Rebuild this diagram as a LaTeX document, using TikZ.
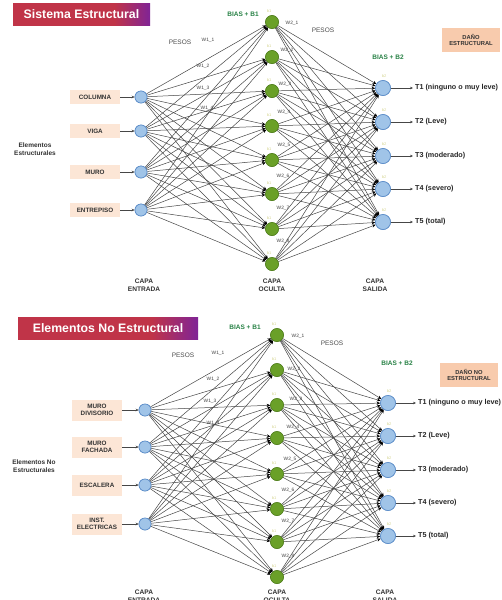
\documentclass[tikz,border=0pt]{standalone}
\usepackage{fontspec}
\setmainfont{Liberation Sans}
\usetikzlibrary{arrows.meta}
\definecolor{titleR}{RGB}{192,52,72}
\definecolor{titleP}{RGB}{128,36,150}
\definecolor{peachL}{RGB}{252,230,214}
\definecolor{peachD}{RGB}{248,203,173}
\definecolor{blueL}{RGB}{160,196,232}
\definecolor{blueD}{RGB}{91,140,200}
\definecolor{greenN}{RGB}{106,160,40}
\definecolor{greenD}{RGB}{80,125,30}
\definecolor{biasG}{RGB}{40,130,70}
\definecolor{faintY}{RGB}{215,215,150}
\definecolor{lineC}{RGB}{70,70,70}
\pgfdeclarehorizontalshading{titlesh}{100bp}{color(0bp)=(titleR); color(25bp)=(titleR); color(62bp)=(titleR); color(75bp)=(titleP); color(100bp)=(titleP)}
\begin{document}
\begin{tikzpicture}[x=1pt,y=-1pt,
  titlebox/.style={shading=titlesh, minimum height=22pt, inner sep=0pt, text=white, font=\fontsize{12.3}{14}\selectfont\bfseries},
  inbox/.style={fill=peachL, minimum width=50pt, minimum height=14pt, inner sep=1pt, font=\fontsize{6.3}{7.3}\selectfont\bfseries, align=center, text=black!80},
  innode/.style={circle, fill=blueL, draw=blueD, line width=0.6pt, minimum size=12pt, inner sep=0pt},
  hidnode/.style={circle, fill=greenN, draw=greenD, line width=0.5pt, minimum size=13pt, inner sep=0pt},
  outnode/.style={circle, fill=blueL, draw=blueD, line width=0.6pt, minimum size=15pt, inner sep=0pt},
  conn/.style={draw=lineC, line width=0.5pt, -{Stealth[length=3.6pt,width=3.2pt,black]}},
  sarrow/.style={draw=lineC, line width=0.5pt, -{Stealth[length=3pt,width=2.6pt]}},
  wlbl/.style={font=\fontsize{4.8}{5}\selectfont, text=black!75, inner sep=0.5pt},
  pesos/.style={font=\fontsize{6.5}{7}\selectfont, text=black!70},
  layer/.style={font=\fontsize{6.6}{7.6}\selectfont\bfseries, align=center, text=black!80},
  outlbl/.style={anchor=west, inner sep=2pt, font=\fontsize{7.2}{8}\selectfont\bfseries, text=black!85},
  bias/.style={font=\fontsize{6.5}{7}\selectfont\bfseries, text=biasG},
  blbl/.style={font=\fontsize{4}{5}\selectfont, text=faintY},
  dmg/.style={fill=peachD, minimum width=58pt, minimum height=24pt, inner sep=1pt, align=center, font=\fontsize{5.8}{6.8}\selectfont\bfseries, text=black!80},
  grp/.style={font=\fontsize{6.5}{7.5}\selectfont\bfseries, align=center, text=black!80}
]
\useasboundingbox (0,0) rectangle (501,600);
\fill[white] (0,0) rectangle (501,600);

% ================= TOP PANEL =================
\node[titlebox, minimum width=137pt] (t1) at (81.5,14.5) {Sistema Estructural};

\foreach \i/\y/\t in {1/97/COLUMNA, 2/131/VIGA, 3/172/MURO, 4/210/ENTREPISO}{
  \node[inbox] (ab\i) at (95,\y) {\t};
  \node[innode] (ai\i) at (141,\y) {};
}
\foreach \j/\y in {1/22, 2/57, 3/91, 4/126, 5/160, 6/194, 7/229, 8/264}{
  \node[hidnode] (ah\j) at (272,\y) {};
}
\foreach \k/\y in {1/88, 2/122, 3/156, 4/189, 5/222}{
  \node[outnode] (ao\k) at (383,\y) {};
}
\foreach \i in {1,...,4}{\foreach \j in {1,...,8}{\draw[conn] (ai\i) -- (ah\j);}}
\foreach \j in {1,...,8}{\foreach \k in {1,...,5}{\draw[conn] (ah\j) -- (ao\k);}}
\foreach \i in {1,...,4}{\draw[sarrow] (ab\i) -- (ai\i);}
\foreach \i/\y in {1/97, 2/131, 3/172, 4/210}{\node[innode] at (141,\y) {};}
\foreach \j/\y in {1/22, 2/57, 3/91, 4/126, 5/160, 6/194, 7/229, 8/264}{
  \node[hidnode] at (272,\y) {};
  \node[blbl] at (269,\y-11) {b1};
}
\foreach \k/\y/\t in {1/88/{T1 (ninguno o muy leve)}, 2/122/{T2 (Leve)}, 3/156/{T3 (moderado)}, 4/189/{T4 (severo)}, 5/222/{T5 (total)}}{
  \node[outnode] at (383,\y) {};
  \node[blbl] at (384,\y-12) {b2};
  \node[outlbl] (aol\k) at (413,\y) {\t};
  \draw[sarrow] (ao\k) -- (aol\k.west);
}
\foreach \x/\y/\t in {208/40/W1\_1, 203/66/W1\_2, 203/88/W1\_3, 207/108/W1\_4}{\node[wlbl] at (\x,\y) {\t};}
\foreach \x/\y/\t in {292/23/W2\_1, 287/50/W2\_2, 285/84/W2\_3, 284/112/W2\_4, 284/145/W2\_5, 283/176/W2\_6, 283/208/W2\_7, 283/241/W2\_8}{\node[wlbl] at (\x,\y) {\t};}
\node[pesos] at (180,42) {PESOS};
\node[pesos] at (323,30) {PESOS};
\node[bias] at (243,14) {BIAS + B1};
\node[bias] at (388,57) {BIAS + B2};
\node[dmg] at (471,40) {DAÑO\\ESTRUCTURAL};
\node[grp] at (35,149) {Elementos\\Estructurales};
\node[layer] at (144,285) {CAPA\\ENTRADA};
\node[layer] at (272,285) {CAPA\\OCULTA};
\node[layer] at (375,285) {CAPA\\SALIDA};

% ================= BOTTOM PANEL =================
\node[titlebox, minimum width=180pt] (t2) at (108,328.5) {Elementos No Estructural};

\foreach \i/\y/\t in {1/410/{MURO\\DIVISORIO}, 2/447/{MURO\\FACHADA}, 3/485/{ESCALERA}, 4/524/{INST.\\ELECTRICAS}}{
  \node[inbox, minimum height=21pt] (bb\i) at (97,\y) {\t};
  \node[innode] (bi\i) at (145,\y) {};
}
\foreach \j/\y in {1/335, 2/370, 3/405, 4/438, 5/474, 6/509, 7/542, 8/577}{
  \node[hidnode] (bh\j) at (277,\y) {};
}
\foreach \k/\y in {1/403, 2/436, 3/470, 4/503, 5/536}{
  \node[outnode] (bo\k) at (388,\y) {};
}
\foreach \i in {1,...,4}{\foreach \j in {1,...,8}{\draw[conn] (bi\i) -- (bh\j);}}
\foreach \j in {1,...,8}{\foreach \k in {1,...,5}{\draw[conn] (bh\j) -- (bo\k);}}
\foreach \i in {1,...,4}{\draw[sarrow] (bb\i) -- (bi\i);}
\foreach \i/\y in {1/410, 2/447, 3/485, 4/524}{\node[innode] at (145,\y) {};}
\foreach \j/\y in {1/335, 2/370, 3/405, 4/438, 5/474, 6/509, 7/542, 8/577}{
  \node[hidnode] at (277,\y) {};
  \node[blbl] at (274,\y-11) {b1};
}
\foreach \k/\y/\t in {1/403/{T1 (ninguno o muy leve)}, 2/436/{T2 (Leve)}, 3/470/{T3 (moderado)}, 4/503/{T4 (severo)}, 5/536/{T5 (total)}}{
  \node[outnode] at (388,\y) {};
  \node[blbl] at (389,\y-12) {b2};
  \node[outlbl] (bol\k) at (416,\y) {\t};
  \draw[sarrow] (bo\k) -- (bol\k.west);
}
\foreach \x/\y/\t in {218/353/W1\_1, 213/379/W1\_2, 210/401/W1\_3, 213/423/W1\_4}{\node[wlbl] at (\x,\y) {\t};}
\foreach \x/\y/\t in {298/336/W2\_1, 294/369/W2\_2, 296/399/W2\_3, 293/427/W2\_4, 290/459/W2\_5, 288/490/W2\_6, 288/521/W2\_7, 288/556/W2\_8}{\node[wlbl] at (\x,\y) {\t};}
\node[pesos] at (183,355) {PESOS};
\node[pesos] at (332,343) {PESOS};
\node[bias] at (245,327) {BIAS + B1};
\node[bias] at (397,363) {BIAS + B2};
\node[dmg] at (469,375) {DAÑO NO\\ESTRUCTURAL};
\node[grp] at (34,466) {Elementos No\\Estructurales};
\node[layer] at (144,596) {CAPA\\ENTRADA};
\node[layer] at (277,596) {CAPA\\OCULTA};
\node[layer] at (385,596) {CAPA\\SALIDA};
\end{tikzpicture}
\end{document}
